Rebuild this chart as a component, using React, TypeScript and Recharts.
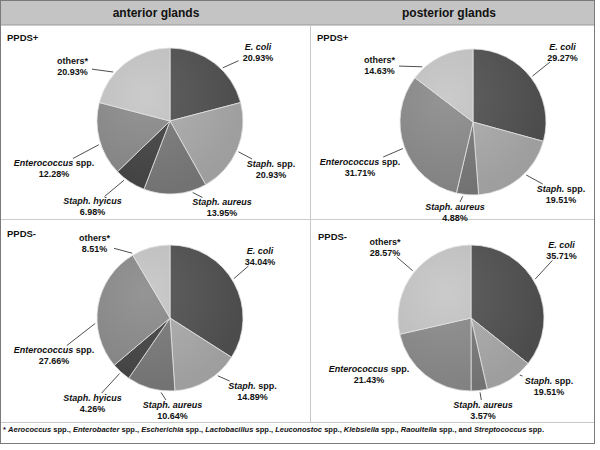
import React from "react";
import { PieChart, Pie, Cell } from "recharts";

// anterior glands, PPDS+
const antPlusNames = ["E. coli", "Staph. spp.", "Staph. aureus", "Staph. hyicus", "Enterococcus spp.", "others*"];
const antPlusValues = [20.93, 20.93, 13.95, 6.98, 16.28, 20.93];
const antPlusLabels = ["20.93%", "20.93%", "13.95%", "6.98%", "12.28%", "20.93%"];

// posterior glands, PPDS+
const postPlusNames = ["E. coli", "Staph. spp.", "Staph. aureus", "Enterococcus spp.", "others*"];
const postPlusValues = [29.27, 19.51, 4.88, 31.71, 14.63];
const postPlusLabels = ["29.27%", "19.51%", "4.88%", "31.71%", "14.63%"];

// anterior glands, PPDS-
const antMinusNames = ["E. coli", "Staph. spp.", "Staph. aureus", "Staph. hyicus", "Enterococcus spp.", "others*"];
const antMinusValues = [34.04, 14.89, 10.64, 4.26, 27.66, 8.51];
const antMinusLabels = ["34.04%", "14.89%", "10.64%", "4.26%", "27.66%", "8.51%"];

// posterior glands, PPDS-
const postMinusNames = ["E. coli", "Staph. spp.", "Staph. aureus", "Enterococcus spp.", "others*"];
const postMinusValues = [35.71, 10.71, 3.57, 21.43, 28.57];
const postMinusLabels = ["35.71%", "19.51%", "3.57%", "21.43%", "28.57%"];

const footGenera = ["Aerococcus", "Enterobacter", "Escherichia", "Lactobacillus", "Leuconostoc", "Klebsiella", "Raoultella", "Streptococcus"];

// [centre, edge] greys
const COLORS: Record<string, string[]> = {
  "E. coli": ["#616161", "#4c4c4c"],
  "Staph. spp.": ["#b4b4b4", "#9e9e9e"],
  "Staph. aureus": ["#858585", "#727272"],
  "Staph. hyicus": ["#535353", "#414141"],
  "Enterococcus spp.": ["#959595", "#818181"],
  "others*": ["#cbcbcb", "#b8b8b8"],
};

// where excel put the labels (offset from pie centre)
const tlLabelPos = [[88, -69], [101, 48], [52, 86.5], [-77.5, 85.5], [-116, 47.5], [-97.5, -54.5]];
const trLabelPos = [[89.5, -70], [88, 72], [-18, 90], [-113, 45], [-93.5, -56.5]];
const blLabelPos = [[90, -62], [82.5, 73], [2.5, 92], [-77.5, 85], [-116, 37.5], [-75.5, -75]];
const brLabelPos = [[90.5, -67.5], [78, 68], [12, 92], [-102, 56.7], [-86, -71]];

const FONT = "'Liberation Sans', Arial, sans-serif";
const RAD = Math.PI / 180;
const R = 73;

const nameParts = (name: string) => {
  if (name.startsWith("others")) return <tspan>{name}</tspan>;
  if (name.endsWith(" spp.")) {
    return (
      <>
        <tspan fontStyle="italic">{name.replace(" spp.", "")}</tspan>
        <tspan> spp.</tspan>
      </>
    );
  }
  return <tspan fontStyle="italic">{name}</tspan>;
};

const makeLabel = (pos: number[][], pcts: string[]) => (props: any) => {
  const { cx, cy, midAngle, outerRadius, index, name } = props;
  const [ox, oy] = pos[index];
  const lx = cx + ox;
  const ly = cy + oy;
  // leader line starts between slice middle and label direction
  const la = Math.atan2(-oy, ox);
  const ma = midAngle * RAD;
  const a = Math.atan2(Math.sin(la) + Math.sin(ma), Math.cos(la) + Math.cos(ma));
  const r0 = outerRadius + 2;
  const x0 = cx + r0 * Math.cos(a);
  const y0 = cy - r0 * Math.sin(a);
  const dx = lx - x0;
  const dy = ly - y0;
  const hw = (Math.max(name.length, pcts[index].length) * 5) / 2 + 2;
  const hh = 10;
  const t = Math.max(1 - hw / Math.abs(dx || 0.001), 1 - hh / Math.abs(dy || 0.001));
  const x1 = x0 + dx * t;
  const y1 = y0 + dy * t;
  return (
    <g>
      {t > 0.02 && <line x1={x0} y1={y0} x2={x1} y2={y1} stroke="#222" strokeWidth={0.8} />}
      <text x={lx} y={ly - 2.3} textAnchor="middle" fontSize={9} fontWeight="bold" fontFamily={FONT} fill="#111">
        {nameParts(name)}
      </text>
      <text x={lx} y={ly + 8.7} textAnchor="middle" fontSize={9} fontWeight="bold" fontFamily={FONT} fill="#111">
        {pcts[index]}
      </text>
    </g>
  );
};

const PiePanel = ({ id, names, values, pcts, pos, left, top, width, height, cx, cy }: any) => {
  const data = names.map((n: string, i: number) => ({ name: n, value: values[i] }));
  return (
    <div style={{ position: "absolute", left, top }}>
      <PieChart width={width} height={height}>
        <defs>
          {data.map((d: any, i: number) => (
            <radialGradient key={i} id={`${id}-g${i}`} gradientUnits="userSpaceOnUse" cx={cx - 20} cy={cy - 20} r={R + 25}>
              <stop offset="0%" stopColor={COLORS[d.name][0]} />
              <stop offset="100%" stopColor={COLORS[d.name][1]} />
            </radialGradient>
          ))}
        </defs>
        <Pie
          data={data}
          dataKey="value"
          nameKey="name"
          cx={cx}
          cy={cy}
          outerRadius={R}
          startAngle={90}
          endAngle={-270}
          stroke="#e2e2e2"
          strokeWidth={0.8}
          label={makeLabel(pos, pcts)}
          labelLine={false}
          isAnimationActive={false}
        >
          {data.map((d: any, i: number) => (
            <Cell key={`cell-${i}`} fill={`url(#${id}-g${i})`} />
          ))}
        </Pie>
      </PieChart>
    </div>
  );
};

const App = () => {
  return (
    <div style={{ position: "absolute", left: 0, top: 0, width: 600, height: 450, background: "#fff" }}>
      <svg width={600} height={450} style={{ position: "absolute", left: 0, top: 0 }}>
        <rect x={1} y={1} width={593} height={24} fill="#c4c4c4" />
        <line x1={1} y1={25} x2={594} y2={25} stroke="#9a9a9a" />
        <line x1={310.5} y1={25} x2={310.5} y2={422} stroke="#c8c8c8" />
        <line x1={1} y1={219.5} x2={594} y2={219.5} stroke="#cccccc" />
        <line x1={1} y1={422.5} x2={594} y2={422.5} stroke="#c8c8c8" />
        <rect x={0.5} y={0.5} width={594} height={443} fill="none" stroke="#7a7a7a" />
        <text x={156} y={17} textAnchor="middle" fontSize={12} fontWeight="bold" fontFamily={FONT} fill="#111">
          anterior glands
        </text>
        <text x={449} y={17} textAnchor="middle" fontSize={12} fontWeight="bold" fontFamily={FONT} fill="#111">
          posterior glands
        </text>
        <text x={7} y={41} fontSize={9.5} fontWeight="bold" fontFamily={FONT} fill="#111">PPDS+</text>
        <text x={317} y={41} fontSize={9.5} fontWeight="bold" fontFamily={FONT} fill="#111">PPDS+</text>
        <text x={7} y={236.5} fontSize={9.5} fontWeight="bold" fontFamily={FONT} fill="#111">PPDS-</text>
        <text x={318} y={239.5} fontSize={9.5} fontWeight="bold" fontFamily={FONT} fill="#111">PPDS-</text>
        <text x={3} y={432} fontSize={7.5} fontWeight="bold" fontFamily={FONT} fill="#111" textLength={541} lengthAdjust="spacingAndGlyphs">
          <tspan>* </tspan>
          {footGenera.map((g, i) => (
            <React.Fragment key={g}>
              {i === footGenera.length - 1 && <tspan>and </tspan>}
              <tspan fontStyle="italic">{g}</tspan>
              <tspan>{i === footGenera.length - 1 ? " spp." : " spp., "}</tspan>
            </React.Fragment>
          ))}
        </text>
      </svg>
      <PiePanel id="tl" names={antPlusNames} values={antPlusValues} pcts={antPlusLabels} pos={tlLabelPos}
        left={1} top={25} width={309} height={200} cx={164} cy={91} />
      <PiePanel id="tr" names={postPlusNames} values={postPlusValues} pcts={postPlusLabels} pos={trLabelPos}
        left={311} top={25} width={283} height={200} cx={157} cy={92} />
      <PiePanel id="bl" names={antMinusNames} values={antMinusValues} pcts={antMinusLabels} pos={blLabelPos}
        left={1} top={220} width={309} height={202} cx={164} cy={93} />
      <PiePanel id="br" names={postMinusNames} values={postMinusValues} pcts={postMinusLabels} pos={brLabelPos}
        left={311} top={220} width={283} height={202} cx={155} cy={93} />
    </div>
  );
};

export default App;
